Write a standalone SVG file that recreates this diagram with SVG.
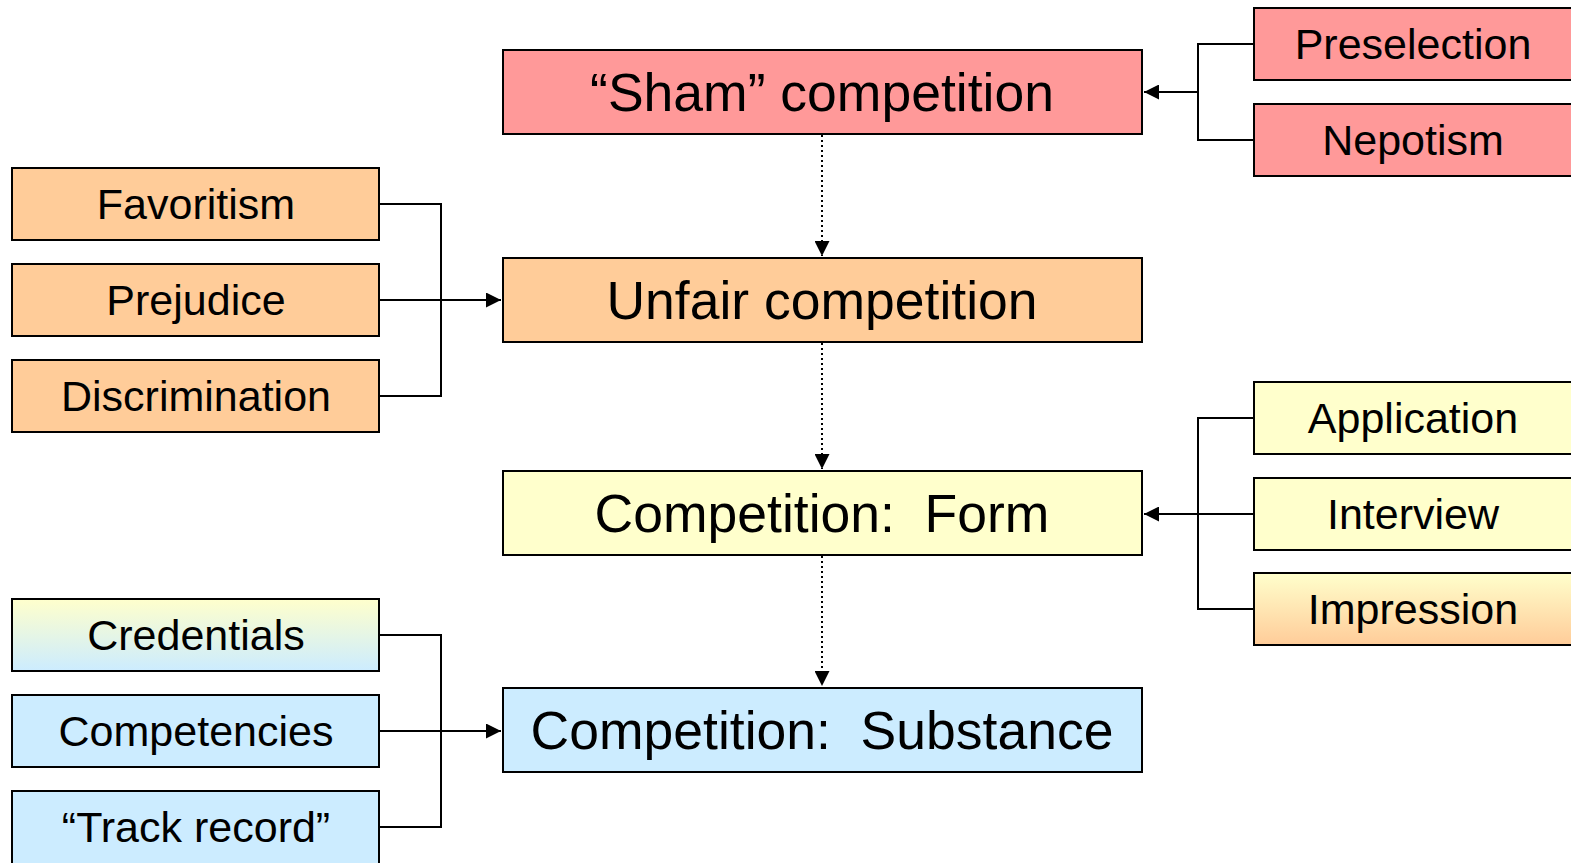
<svg xmlns="http://www.w3.org/2000/svg" width="1571" height="863" viewBox="0 0 1571 863">
<style>
.box{stroke:#000;stroke-width:2}
.big{font-family:"Liberation Sans",Arial,sans-serif;font-size:53.5px;text-anchor:middle;fill:#000}
.sm{font-family:"Liberation Sans",Arial,sans-serif;font-size:43px;text-anchor:middle;fill:#000}
.ln{fill:none;stroke:#000;stroke-width:2}
.dot{fill:none;stroke:#000;stroke-width:2;stroke-dasharray:2 3}
.red{fill:#FF9999}.org{fill:#FFCC99}.yel{fill:#FFFFCC}.blu{fill:#CCECFF}
</style>
<defs>
<linearGradient id="gCred" x1="0" y1="0" x2="0" y2="1"><stop offset="0" stop-color="#FFFFCC"/><stop offset="1" stop-color="#CCECFF"/></linearGradient>
<linearGradient id="gImp" x1="0" y1="0" x2="0" y2="1"><stop offset="0" stop-color="#FFFFCC"/><stop offset="1" stop-color="#FFCC99"/></linearGradient>
<marker id="arr" viewBox="0 0 10 10" refX="10" refY="5" markerWidth="15" markerHeight="15" markerUnits="userSpaceOnUse" orient="auto"><path d="M0,0 L10,5 L0,10 z" fill="#000"/></marker>
</defs>
<rect width="1571" height="863" fill="#fff"/>
<g id="connectors">
<path class="dot" d="M822,135 V256" marker-end="url(#arr)"/>
<path class="dot" d="M822,343 V469" marker-end="url(#arr)"/>
<path class="dot" d="M822,556 V686" marker-end="url(#arr)"/>
<path class="ln" d="M1254,44 H1198 V140 H1254"/>
<path class="ln" d="M1198,92 H1144" marker-end="url(#arr)"/>
<path class="ln" d="M379,204 H441 V396 H379"/>
<path class="ln" d="M379,300 H501" marker-end="url(#arr)"/>
<path class="ln" d="M1254,418 H1198 V609 H1254"/>
<path class="ln" d="M1254,514 H1144" marker-end="url(#arr)"/>
<path class="ln" d="M379,635 H441 V827 H379"/>
<path class="ln" d="M379,731 H501" marker-end="url(#arr)"/>
</g>
<g id="sham"><rect class="box red" x="503" y="50" width="639" height="84"/><text class="big" x="822" y="111">“Sham” competition</text></g>
<g id="unfair"><rect class="box org" x="503" y="258" width="639" height="84"/><text class="big" x="822" y="319">Unfair competition</text></g>
<g id="form"><rect class="box yel" x="503" y="471" width="639" height="84"/><text class="big" x="822" y="532" xml:space="preserve">Competition:  Form</text></g>
<g id="substance"><rect class="box blu" x="503" y="688" width="639" height="84"/><text class="big" x="822" y="749" xml:space="preserve">Competition:  Substance</text></g>
<g id="favoritism"><rect class="box org" x="12" y="168" width="367" height="72"/><text class="sm" x="196" y="219">Favoritism</text></g>
<g id="prejudice"><rect class="box org" x="12" y="264" width="367" height="72"/><text class="sm" x="196" y="315">Prejudice</text></g>
<g id="discrimination"><rect class="box org" x="12" y="360" width="367" height="72"/><text class="sm" x="196" y="411">Discrimination</text></g>
<g id="credentials"><rect class="box" fill="url(#gCred)" x="12" y="599" width="367" height="72"/><text class="sm" x="196" y="650">Credentials</text></g>
<g id="competencies"><rect class="box blu" x="12" y="695" width="367" height="72"/><text class="sm" x="196" y="746">Competencies</text></g>
<g id="trackrecord"><rect class="box blu" x="12" y="791" width="367" height="80"/><text class="sm" x="196" y="842">“Track record”</text></g>
<g id="preselection"><rect class="box red" x="1254" y="8" width="330" height="72"/><text class="sm" x="1413" y="59">Preselection</text></g>
<g id="nepotism"><rect class="box red" x="1254" y="104" width="330" height="72"/><text class="sm" x="1413" y="155">Nepotism</text></g>
<g id="application"><rect class="box yel" x="1254" y="382" width="330" height="72"/><text class="sm" x="1413" y="433">Application</text></g>
<g id="interview"><rect class="box yel" x="1254" y="478" width="330" height="72"/><text class="sm" x="1413" y="529">Interview</text></g>
<g id="impression"><rect class="box" fill="url(#gImp)" x="1254" y="573" width="330" height="72"/><text class="sm" x="1413" y="624">Impression</text></g>
</svg>
